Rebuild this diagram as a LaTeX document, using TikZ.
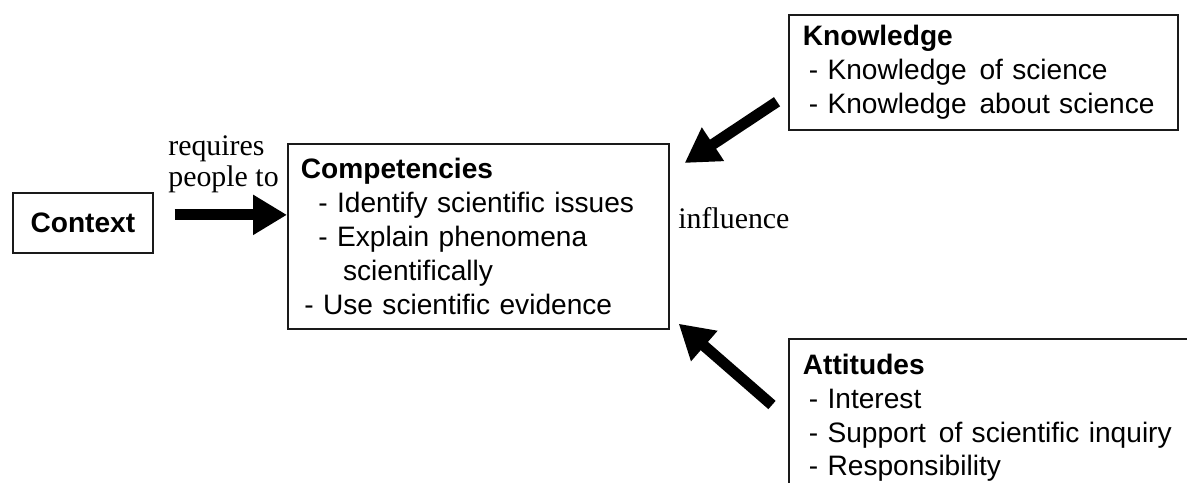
\documentclass[tikz,border=0pt]{standalone}
\usepackage{fontspec}
\setmainfont{Liberation Serif}
\setsansfont{Liberation Sans}
\usetikzlibrary{arrows.meta, positioning, calc}
\definecolor{edgeblack}{HTML}{1A1A1A}
\tikzset{
  box/.style={draw=edgeblack, line width=1pt, anchor=north west, align=left,
              font=\sffamily\fontsize{16}{19.3}\selectfont},
  note/.style={font=\rmfamily\fontsize{17}{18.2}\selectfont, inner sep=0pt, align=left},
  fat/.style={-{Triangle[length=0.68cm, width=0.76cm]}, line width=0.22cm, draw=black},
}
\newcommand{\head}[1]{\textbf{#1}}
\newcommand{\point}[2][3.4pt]{\mbox{\hspace*{#1}#2}}

\begin{document}
\begin{tikzpicture}[x=0.02cm, y=-0.02cm]
  \clip (0,0) rectangle (1187,483);
  % boxes
  \node[box, minimum width=2.8cm, minimum height=1.2cm, align=center] (ctx) at (12,192) {\head{Context}};
  \node[box, text width=7.1cm, inner xsep=0.26cm, minimum height=3.7cm] (comp) at (287,143)
    {\head{Competencies}\\
     \point[10pt]{- Identify scientific issues}\\
     \point[10pt]{- Explain phenomena}\\
     \point[24pt]{scientifically}\\
     \point[2pt]{- Use scientific evidence}};
  \node[box, text width=7.22cm, inner xsep=0.28cm, minimum height=2.3cm] (know) at (788,14)
    {\head{Knowledge}\\
     \point{- Knowledge\hspace{2pt} of science}\\
     \point{- Knowledge\hspace{2pt} about science}};
  \node[box, text width=7.52cm, inner xsep=0.28cm, inner ysep=0.3cm] (att) at (788,338)
    {\head{Attitudes}\\
     \point{- Interest}\\
     \point{- Support\hspace{2pt} of scientific inquiry}\\
     \point{- Responsibility}};
  % labels
  \node[note, anchor=base west] (req) at (168,187) {requires\\people to};
  \node[note, anchor=base west] (infl) at (678,228) {influence};
  % arrows
  \coordinate (reqtail) at ($(ctx.east)+(21,-8)$);
  \coordinate (knowtail) at ($(know.south west)+(-11,-29)$);
  \coordinate (knowtip) at ($(comp.north east)+(15,20)$);
  \coordinate (atttail) at ($(att.north west)+(-16,67)$);
  \coordinate (atttip) at ($(comp.south east)+(9,-6)$);
  \draw[fat] (reqtail) -- (reqtail -| comp.west);
  \draw[fat] (knowtail) -- (knowtip);
  \draw[fat] (atttail) -- (atttip);
\end{tikzpicture}
\end{document}
